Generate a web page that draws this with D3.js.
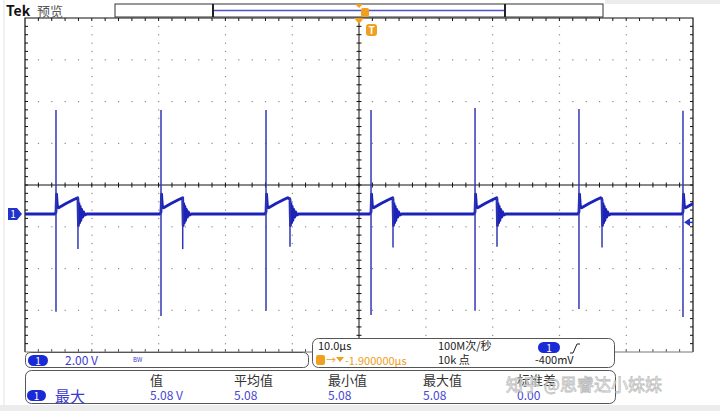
<!DOCTYPE html>
<html>
<head>
<meta charset="utf-8">
<script src="https://cdn.jsdelivr.net/npm/d3@7"></script>
<style>
  body { margin: 0; background: #fff; }
  svg text { font-family: "Noto Sans CJK SC", "DejaVu Sans", sans-serif; }
</style>
</head>
<body>
<div id="chart-area"></div>
<script>
// switching edges (µs) and spike extremes (V)
const spikeTimes = [-45.36, -29.64, -13.92, 1.80, 17.37, 32.93, 48.50];
const spikeHigh = [4.98, 4.98, 4.98, 4.98, 5.08, 5.03, 4.95];
const spikeLow = [-4.68, -4.89, -4.63, -4.84, -4.63, -4.55, -4.93];
// turn-off dips at the end of each ramp
const dipTimes = [-42.07, -26.39, -10.33, 5.09, 20.66, 36.38];
const dipLow = [-1.68, -1.68, -1.57, -1.60, -1.57, -1.60];
// trace shape after an edge: [µs after edge, V]
const rampShape = [[-0.15, 0], [0, 0.1], [0.08, 0.95], [0.2, 0.4], [0.4, 0.3], [1.5, 0.5], [2.6, 0.68], [3.25, 0.78]];
// ringing after a dip: [µs after dip, V]
const ringShape = [[0, 0.7], [0.07, -0.55], [0.15, 0.5], [0.24, -0.42], [0.33, 0.36], [0.43, -0.3], [0.55, 0.22], [0.7, -0.15], [0.85, 0.1], [1.05, -0.05], [1.3, 0]];

const measHeaders = ["值", "平均值", "最小值", "最大值", "标准差"];
const measValues = ["5.08 V", "5.08", "5.08", "5.08", "0.00"];

const W = 720, H = 411;
const plot = { left: 25, right: 693, top: 18, bottom: 352 };
const traceColor = "#1a22b8";
const orange = "#f0a020";

const svg = d3.select("#chart-area").append("svg")
  .attr("width", W).attr("height", H);

// screenshot frame
svg.append("rect").attr("width", W).attr("height", H).attr("fill", "#fff");
svg.append("rect").attr("x", 0).attr("y", 405).attr("width", W).attr("height", 6).attr("fill", "#ececec");
svg.append("rect").attr("x", 605).attr("y", 0).attr("width", 115).attr("height", 4).attr("fill", "#ececec");
svg.append("line").attr("x1", 4).attr("x2", 4).attr("y1", 0).attr("y2", 405).attr("stroke", "#e4e4e4");

const x = d3.scaleLinear().domain([-50, 50]).range([plot.left, plot.right]);
// 2 V/div, ground marker 0.7 div below centre
const y = d3.scaleLinear().domain([-6.61, 9.39]).range([plot.bottom, plot.top]);
const gx = d3.scaleLinear().domain([0, 10]).range([plot.left, plot.right]);
const gy = d3.scaleLinear().domain([0, 8]).range([plot.top, plot.bottom]);

const grid = svg.append("g");
// dotted graticule
for (let i = 1; i < 10; i++) {
  if (i === 5) continue;
  for (let k = 1; k < 40; k++) {
    grid.append("rect").attr("x", gx(i) - 0.5).attr("y", gy(k / 5) - 0.5)
      .attr("width", 1.2).attr("height", 1.2).attr("fill", "#8a8a8a");
  }
}
for (let j = 1; j < 8; j++) {
  if (j === 4) continue;
  for (let k = 1; k < 50; k++) {
    if (k % 5 === 0) continue;
    grid.append("rect").attr("x", gx(k / 5) - 0.5).attr("y", gy(j) - 0.5)
      .attr("width", 1.2).attr("height", 1.2).attr("fill", "#8a8a8a");
  }
}
// centre cross with minor ticks
grid.append("line").attr("x1", gx(5)).attr("x2", gx(5)).attr("y1", plot.top).attr("y2", plot.bottom).attr("stroke", "#111");
grid.append("line").attr("x1", plot.left).attr("x2", plot.right).attr("y1", gy(4)).attr("y2", gy(4)).attr("stroke", "#111");
for (let k = 1; k < 40; k++) {
  grid.append("line").attr("x1", gx(5) - 2.5).attr("x2", gx(5) + 2.5).attr("y1", gy(k / 5)).attr("y2", gy(k / 5)).attr("stroke", "#111");
  grid.append("line").attr("x1", plot.left).attr("x2", plot.left + 3).attr("y1", gy(k / 5)).attr("y2", gy(k / 5)).attr("stroke", "#111");
  grid.append("line").attr("x1", plot.right - 3).attr("x2", plot.right).attr("y1", gy(k / 5)).attr("y2", gy(k / 5)).attr("stroke", "#111");
}
for (let k = 1; k < 50; k++) {
  grid.append("line").attr("y1", gy(4) - 2.5).attr("y2", gy(4) + 2.5).attr("x1", gx(k / 5)).attr("x2", gx(k / 5)).attr("stroke", "#111");
  grid.append("line").attr("y1", plot.top).attr("y2", plot.top + 3).attr("x1", gx(k / 5)).attr("x2", gx(k / 5)).attr("stroke", "#111");
  grid.append("line").attr("y1", plot.bottom - 3).attr("y2", plot.bottom).attr("x1", gx(k / 5)).attr("x2", gx(k / 5)).attr("stroke", "#555");
}
grid.append("path")
  .attr("d", `M${plot.left},${plot.bottom}V${plot.top}H${plot.right}V${plot.bottom}`)
  .attr("fill", "none").attr("stroke", "#111").attr("stroke-width", 1.2);
grid.append("line").attr("x1", plot.left).attr("x2", plot.right).attr("y1", plot.bottom).attr("y2", plot.bottom).attr("stroke", "#777");

// build trace
let pts = [[-50, 0]];
spikeTimes.forEach((t0, i) => {
  rampShape.forEach(p => pts.push([t0 + p[0], p[1]]));
  if (i < dipTimes.length) {
    ringShape.forEach(p => pts.push([dipTimes[i] + p[0], p[1]]));
  }
});
pts.push([50, 0.78]);

svg.append("clipPath").attr("id", "clip").append("rect")
  .attr("x", plot.left).attr("y", plot.top)
  .attr("width", plot.right - plot.left).attr("height", plot.bottom - plot.top);

const traceG = svg.append("g").attr("clip-path", "url(#clip)");
const line = d3.line().x(d => x(d[0])).y(d => y(d[1]));
traceG.append("path").datum(pts).attr("d", line)
  .attr("fill", "none").attr("stroke", traceColor).attr("stroke-width", 2.8)
  .attr("stroke-linejoin", "round");

traceG.selectAll(".spike").data(spikeTimes).enter().append("line")
  .attr("x1", d => x(d)).attr("x2", d => x(d))
  .attr("y1", (d, i) => y(spikeHigh[i])).attr("y2", (d, i) => y(spikeLow[i]))
  .attr("stroke", "#3438b0").attr("stroke-width", 1.5);
traceG.selectAll(".dip").data(dipTimes).enter().append("line")
  .attr("x1", d => x(d)).attr("x2", d => x(d))
  .attr("y1", y(0.8)).attr("y2", (d, i) => y(dipLow[i]))
  .attr("stroke", "#3438b0").attr("stroke-width", 1.5);

// ground marker (left)
const gm = svg.append("g").attr("transform", `translate(8, ${y(0)})`);
gm.append("path").attr("d", "M0,-6 H9 L14,0 L9,6 H0 Z").attr("fill", "#2233cc");
gm.append("text").attr("x", 5).attr("y", 4).attr("font-size", 10).attr("fill", "#fff")
  .attr("text-anchor", "middle").attr("font-family", "DejaVu Sans").text("1");
// trigger level marker (right)
svg.append("path").attr("d", `M${plot.right - 9},${y(-0.4)} l6,-4 v8 z`).attr("fill", "#2233cc");
svg.append("line").attr("x1", plot.right - 6).attr("x2", plot.right).attr("y1", y(-0.4)).attr("y2", y(-0.4))
  .attr("stroke", "#2233cc").attr("stroke-width", 1.5);

// top header
svg.append("text").attr("x", 6).attr("y", 16).attr("font-size", 14).attr("font-weight", "bold")
  .attr("font-family", "Liberation Sans").attr("fill", "#111").text("Tek");
svg.append("text").attr("x", 37).attr("y", 16).attr("font-size", 13).attr("fill", "#555").text("预览");

svg.append("rect").attr("x", 115).attr("y", 4).attr("width", 488).attr("height", 13)
  .attr("fill", "#fff").attr("stroke", "#333");
svg.append("line").attr("x1", 213).attr("x2", 505).attr("y1", 10.5).attr("y2", 10.5)
  .attr("stroke", "#5050c8").attr("stroke-width", 1.5);
[213, 505].forEach(v => svg.append("line").attr("x1", v).attr("x2", v).attr("y1", 4).attr("y2", 17)
  .attr("stroke", "#222").attr("stroke-width", 2));

// trigger position markers
const tx = x(0);
svg.append("path").attr("d", `M${tx - 4},4 h8 l-4,4 z`).attr("fill", orange);
svg.append("rect").attr("x", tx + 2).attr("y", 8).attr("width", 8).attr("height", 9).attr("rx", 2).attr("fill", orange);
svg.append("path").attr("d", `M${tx - 5},${plot.top} h10 l-5,6 z`).attr("fill", orange);
svg.append("rect").attr("x", tx + 7).attr("y", 24).attr("width", 11).attr("height", 12).attr("rx", 3).attr("fill", orange);
svg.append("text").attr("x", tx + 12.5).attr("y", 34).attr("text-anchor", "middle").attr("font-size", 10)
  .attr("font-weight", "bold").attr("fill", "#fff").attr("font-family", "DejaVu Sans").text("T");

// channel box
svg.append("rect").attr("x", 25.5).attr("y", 352.5).attr("width", 283).attr("height", 15).attr("rx", 5)
  .attr("fill", "#fff").attr("stroke", "#555");
function pill(px, py, w) {
  svg.append("rect").attr("x", px).attr("y", py).attr("width", w).attr("height", 11).attr("rx", 5.5).attr("fill", "#1a2ad6");
  svg.append("text").attr("x", px + w / 2).attr("y", py + 9.5).attr("text-anchor", "middle").attr("font-size", 10)
    .attr("fill", "#fff").attr("font-family", "DejaVu Sans").text("1");
}
pill(28, 355, 20);
svg.append("text").attr("x", 65).attr("y", 365).attr("font-size", 12).attr("fill", "#3a3ad0")
  .attr("font-family", "DejaVu Sans").text("2.00 V");
svg.append("text").attr("x", 133).attr("y", 362).attr("font-size", 6).attr("fill", "#3a3ad0")
  .attr("font-family", "DejaVu Sans").text("BW");

// timebase / trigger box
svg.append("rect").attr("x", 312.5).attr("y", 338.5).attr("width", 302).attr("height", 29).attr("rx", 6)
  .attr("fill", "#fff").attr("stroke", "#555");
const tb = [["10.0µs", 318, 350, "#222"], ["100M次/秒", 438, 350, "#222"], ["10k 点", 438, 364, "#222"], ["-400mV", 535, 364, "#222"]];
tb.forEach(d => svg.append("text").attr("x", d[1]).attr("y", d[2]).attr("font-size", 11).attr("fill", d[3]).text(d[0]));
pill(538, 342, 22);
svg.append("path").attr("d", "M570,353 h3 l4,-9 h3").attr("fill", "none").attr("stroke", "#222").attr("stroke-width", 1);
svg.append("rect").attr("x", 316).attr("y", 355).attr("width", 9).attr("height", 10).attr("rx", 2).attr("fill", orange);
svg.append("text").attr("x", 326).attr("y", 364).attr("font-size", 10).attr("fill", orange).text("→");
svg.append("path").attr("d", "M336,357 h8 l-4,5 z").attr("fill", orange);
svg.append("text").attr("x", 345).attr("y", 365).attr("font-size", 11).attr("fill", orange)
  .attr("font-family", "DejaVu Sans").text("-1.900000µs");

// measurement box
svg.append("rect").attr("x", 25.5).attr("y", 370.5).attr("width", 590).attr("height", 33).attr("rx", 6)
  .attr("fill", "#fff").attr("stroke", "#555");
const colX = [150, 234, 328, 423, 517];
measHeaders.forEach((h, i) => svg.append("text").attr("x", colX[i]).attr("y", 385)
  .attr("font-size", 13).attr("fill", "#333").text(h));
measValues.forEach((v, i) => svg.append("text").attr("x", colX[i]).attr("y", 400)
  .attr("font-size", 12).attr("fill", "#4646d2").attr("font-family", "DejaVu Sans").text(v));
pill(27, 390, 19);
svg.append("text").attr("x", 55).attr("y", 402).attr("font-size", 15).attr("fill", "#3a3ad0").text("最大");

// watermark
svg.append("text").attr("x", 506).attr("y", 391).attr("font-size", 17)
  .attr("fill", "#fff").attr("stroke", "#b8b8b8").attr("stroke-width", 0.8).attr("opacity", 0.9)
  .text("知乎 @思睿达小妹妹");
</script>
</body>
</html>
